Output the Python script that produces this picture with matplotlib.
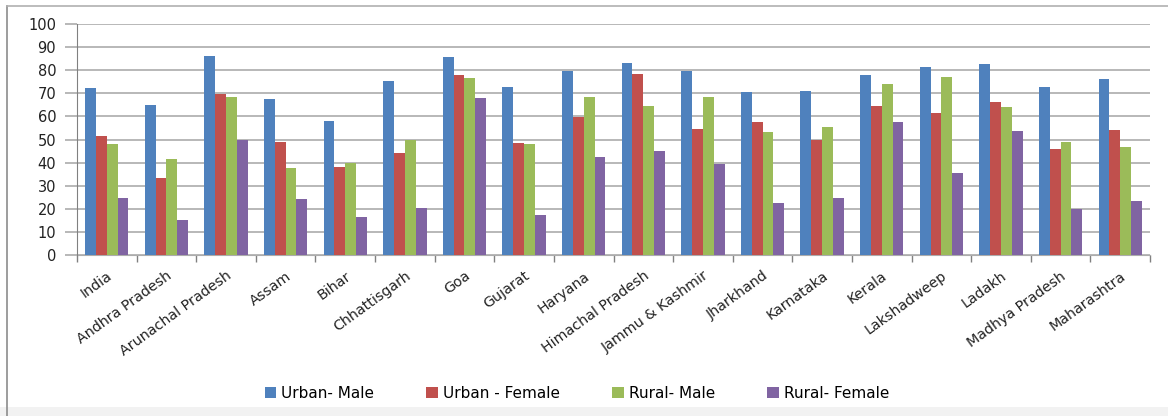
import numpy as np
import matplotlib
matplotlib.use("Agg")
import matplotlib.pyplot as plt
from matplotlib.lines import Line2D
from matplotlib.patches import Rectangle

states = ["India", "Andhra Pradesh", "Arunachal Pradesh", "Assam", "Bihar",
          "Chhattisgarh", "Goa", "Gujarat", "Haryana", "Himachal Pradesh",
          "Jammu & Kashmir", "Jharkhand", "Karnataka", "Kerala", "Lakshadweep",
          "Ladakh", "Madhya Pradesh", "Maharashtra"]

urban_male = [72.2, 64.8, 86.3, 67.5, 58.0, 75.5, 85.9, 72.9, 79.8, 83.3,
              79.7, 70.4, 71.1, 78.1, 81.2, 82.7, 72.6, 76.3]
urban_female = [51.5, 33.5, 69.6, 49.0, 38.2, 44.3, 77.9, 48.6, 59.9, 78.4,
                54.5, 57.4, 49.8, 64.5, 61.6, 66.2, 45.9, 54.1]
rural_male = [48.0, 41.4, 68.3, 37.5, 39.8, 49.8, 76.5, 47.9, 68.4, 64.6,
              68.3, 53.1, 55.3, 73.9, 76.9, 64.2, 48.8, 46.9]
rural_female = [24.5, 15.2, 49.6, 24.2, 16.6, 20.2, 67.8, 17.3, 42.6, 45.2,
                39.4, 22.7, 24.5, 57.4, 35.6, 53.8, 19.8, 23.5]

series_names = ["Urban- Male", "Urban - Female", "Rural- Male", "Rural- Female"]
series_values = [urban_male, urban_female, rural_male, rural_female]
colors = ["#4F81BD", "#C0504D", "#9BBB59", "#8064A2"]
yticks = list(range(0, 101, 10))

W, H = 1168, 416
fig = plt.figure(figsize=(W / 100, H / 100), dpi=100)
fig.patch.set_facecolor("white")

# chart frame (left and top edges) and pale strip at the bottom
fig.add_artist(Rectangle((0, 0), 1, (H - 407) / H, transform=fig.transFigure,
                         facecolor="#f2f2f2", edgecolor="none", zorder=0))
fig.add_artist(Line2D([7 / W, 7 / W], [0, 1 - 6 / H], transform=fig.transFigure,
                      color="#8c8c8c", lw=1.2))
fig.add_artist(Line2D([7 / W, 1], [1 - 6 / H, 1 - 6 / H], transform=fig.transFigure,
                      color="#b0b0b0", lw=1.2))

ax = fig.add_axes([77 / W, (H - 255) / H, (1150 - 77) / W, (255 - 24) / H])
ax.set_facecolor("white")

n = len(states)
x = np.arange(n)
bw = 1 / 5.5
for i, (name, vals, c) in enumerate(zip(series_names, series_values, colors)):
    ax.bar(x + (i - 1.5) * bw, vals, width=bw, color=c, label=name, zorder=3,
           edgecolor="none")

ax.set_xlim(-0.5, n - 0.5)
ax.set_ylim(0, 100)
ax.set_yticks(yticks)
ax.set_yticklabels([str(t) for t in yticks], fontsize=10.5, color="#222222")
ax.yaxis.grid(True, color="#acacac", lw=1.2, zorder=0)
ax.tick_params(axis="y", length=9, color="#acacac", width=1.2, pad=6)

# category separators on the x axis
ax.set_xticks(np.arange(-0.5, n, 1.0), minor=False)
ax.set_xticklabels([])
ax.tick_params(axis="x", which="major", length=5, color="#808080", width=1)
ax.set_xticks(x, minor=True)
ax.set_xticklabels(states, minor=True, rotation=36, ha="right",
                   rotation_mode="anchor", fontsize=10.3, color="#222222")
ax.tick_params(axis="x", which="minor", length=0, pad=10)

for s in ["top", "right"]:
    ax.spines[s].set_visible(False)
ax.spines["left"].set_color("#808080")
ax.spines["bottom"].set_color("#acacac")
ax.spines["left"].set_zorder(4)

fig.legend(loc="center", bbox_to_anchor=(577 / W, 1 - 393 / H), ncol=4,
           frameon=False, fontsize=11, handlelength=0.75, handleheight=0.75,
           handletextpad=0.35, columnspacing=3.4)

fig.savefig("out.png", dpi=100)
